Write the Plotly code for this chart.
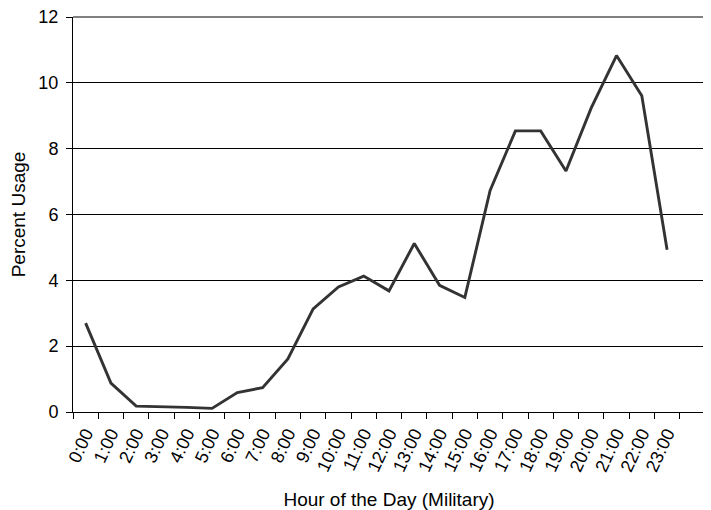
import plotly.graph_objects as go

hours = ["0:00", "1:00", "2:00", "3:00", "4:00", "5:00", "6:00", "7:00",
         "8:00", "9:00", "10:00", "11:00", "12:00", "13:00", "14:00", "15:00",
         "16:00", "17:00", "18:00", "19:00", "20:00", "21:00", "22:00", "23:00"]
usage = [2.70, 0.88, 0.18, 0.17, 0.14, 0.11, 0.59, 0.74,
         1.61, 3.13, 3.80, 4.13, 3.68, 5.12, 3.85, 3.48,
         6.73, 8.54, 8.54, 7.32, 9.24, 10.83, 9.61, 4.93]
y_ticks = [0, 2, 4, 6, 8, 10, 12]

x_pos = list(range(len(hours)))
family = "Arial, 'Liberation Sans', sans-serif"
tick_font = dict(family=family, size=18, color="black")
title_font = dict(family=family, size=19, color="black")

fig = go.Figure()
fig.add_trace(go.Scatter(x=x_pos, y=usage, mode="lines",
                         line=dict(color="#333333", width=2.9), hoverinfo="skip"))

# page body has an 8px margin, so the figure is shifted by 8px; compensate
fig.update_layout(
    width=703, height=502,
    margin=dict(l=65, r=6, t=9, b=98),
    paper_bgcolor="white", plot_bgcolor="white",
    showlegend=False, font=tick_font,
)
# plot-area border (top and right), drawn in gray
fig.add_shape(type="line", xref="x domain", yref="y domain", x0=0, x1=1, y0=1, y1=1,
              line=dict(color="#808080", width=2), layer="above")
fig.add_shape(type="line", xref="x domain", yref="y domain", x0=1, x1=1, y0=0, y1=1,
              line=dict(color="#b0b0b0", width=2), layer="above")

fig.update_xaxes(
    range=[-0.5, len(hours) + 0.5],
    tickmode="array", tickvals=x_pos, ticktext=hours, tickangle=-65,
    ticks="", showgrid=False, zeroline=False,
    showline=True, linecolor="black", linewidth=1,
    minor=dict(ticks="outside", ticklen=6, tickcolor="black", tickwidth=1,
               tickmode="linear", tick0=-0.5, dtick=1, showgrid=False),
    tickfont=tick_font, ticklabeloverflow="allow", ticklabelstandoff=3,
    title=dict(text="Hour of the Day (Military)", font=title_font, standoff=20),
    automargin=False,
)
fig.update_yaxes(
    range=[0, 12], tickmode="array", tickvals=y_ticks,
    ticks="outside", ticklen=6, tickcolor="black",
    showgrid=True, gridcolor="black", gridwidth=1, zeroline=False,
    showline=True, linecolor="black", linewidth=1,
    tickfont=tick_font, ticklabelstandoff=4, ticklabeloverflow="allow",
    title=dict(text="Percent Usage", font=title_font, standoff=10),
    automargin=False,
)
fig.write_html("out.html")
